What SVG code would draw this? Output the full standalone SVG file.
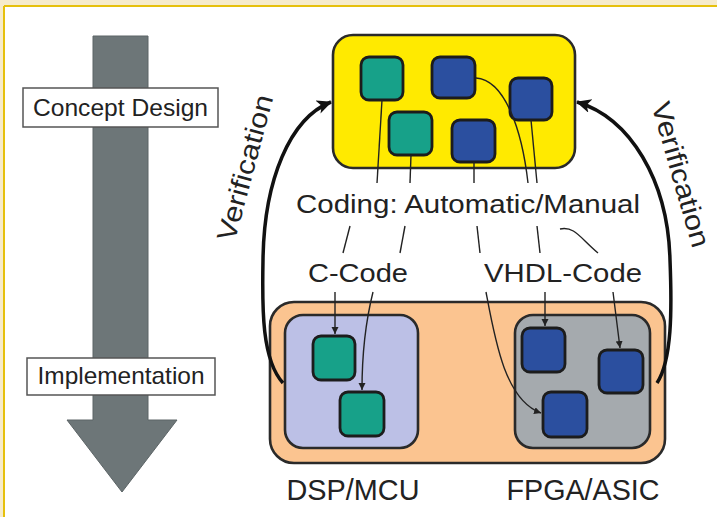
<svg xmlns="http://www.w3.org/2000/svg" width="717" height="517" viewBox="0 0 717 517">
  <defs>
    <style>
      .lbl { font-family: "Liberation Sans", Arial, sans-serif; fill: #222; }
      .frame { fill: #ffffff; stroke: #555; stroke-width: 1.5; }
      .box { stroke: #2a2a2a; stroke-width: 2.6; }
      .sq { stroke: #1c1c1c; stroke-width: 2.8; }
      .teal { fill: #17a189; }
      .blue { fill: #2b4f9f; }
      .thin { fill: none; stroke: #222; stroke-width: 1.4; }
      .big { fill: none; stroke: #111; stroke-width: 3.5; }
    </style>
    <marker id="bigHead" markerUnits="userSpaceOnUse" markerWidth="18" markerHeight="16" refX="14" refY="7" orient="auto">
      <path d="M0,0 L15,7 L0,14 L4,7 Z" fill="#111"/>
    </marker>
    <marker id="smallHead" markerUnits="userSpaceOnUse" markerWidth="9" markerHeight="8" refX="7" refY="3.5" orient="auto">
      <path d="M0,0 L7,3.5 L0,7 Z" fill="#222"/>
    </marker>
  </defs>

  <!-- page background and border -->
  <rect x="0" y="0" width="717" height="517" fill="#f6ebcb"/>
  <rect x="4" y="6" width="713" height="511" fill="#ffffff"/>
  <line x1="4" y1="6" x2="717" y2="6" stroke="#e6c00c" stroke-width="2"/>
  <line x1="4" y1="6" x2="4" y2="517" stroke="#e6c00c" stroke-width="2"/>

  <!-- design flow arrow -->
  <g id="flow">
    <path d="M93,36 L148,36 L148,420 L177,420 L122,492 L67,420 L93,420 Z" fill="#6d7678" stroke="#5c6466" stroke-width="1"/>
  </g>
  <g id="concept-design">
    <rect class="frame" x="23" y="88" width="195" height="39"/>
    <text class="lbl" x="120.5" y="116" font-size="24" text-anchor="middle" textLength="175" lengthAdjust="spacingAndGlyphs">Concept Design</text>
  </g>
  <g id="implementation">
    <rect class="frame" x="27" y="358" width="188" height="37"/>
    <text class="lbl" x="121" y="384" font-size="24" text-anchor="middle" textLength="167" lengthAdjust="spacingAndGlyphs">Implementation</text>
  </g>

  <!-- model (yellow) -->
  <g id="model">
    <rect class="box" x="333" y="35" width="242" height="133" rx="20" fill="#ffea00"/>
    <rect class="sq teal" x="361" y="57" width="42" height="43" rx="8"/>
    <rect class="sq blue" x="432" y="57" width="43" height="41" rx="8"/>
    <rect class="sq blue" x="510" y="78" width="42" height="42" rx="8"/>
    <rect class="sq teal" x="389" y="112" width="43" height="43" rx="8"/>
    <rect class="sq blue" x="452" y="120" width="43" height="42" rx="8"/>
  </g>

  <!-- implementation targets -->
  <g id="targets">
    <rect class="box" x="270" y="302" width="395" height="161" rx="24" fill="#fbc490"/>
  </g>
  <g id="dsp-mcu">
    <rect class="box" x="285" y="315" width="133" height="133" rx="18" fill="#bcc0e6"/>
    <rect class="sq teal" x="313" y="336" width="42" height="44" rx="8"/>
    <rect class="sq teal" x="340" y="392" width="44" height="44" rx="8"/>
    <text class="lbl" x="353" y="500" font-size="29" text-anchor="middle" textLength="133" lengthAdjust="spacingAndGlyphs">DSP/MCU</text>
  </g>
  <g id="fpga-asic">
    <rect class="box" x="515" y="315" width="135" height="133" rx="18" fill="#a5aaae"/>
    <rect class="sq blue" x="522" y="328" width="43" height="44" rx="8"/>
    <rect class="sq blue" x="599" y="350" width="44" height="43" rx="8"/>
    <rect class="sq blue" x="543" y="392" width="44" height="45" rx="8"/>
    <text class="lbl" x="583" y="500" font-size="29" text-anchor="middle" textLength="153" lengthAdjust="spacingAndGlyphs">FPGA/ASIC</text>
  </g>

  <!-- code generation labels -->
  <g id="coding">
    <text class="lbl" x="296" y="213" font-size="25" textLength="344" lengthAdjust="spacingAndGlyphs">Coding: Automatic/Manual</text>
  </g>
  <g id="c-code">
    <text class="lbl" x="308" y="282" font-size="25" textLength="100" lengthAdjust="spacingAndGlyphs">C-Code</text>
  </g>
  <g id="vhdl-code">
    <text class="lbl" x="484" y="282" font-size="25" textLength="158" lengthAdjust="spacingAndGlyphs">VHDL-Code</text>
  </g>

  <!-- verification labels -->
  <text class="lbl" font-size="27" text-anchor="middle" textLength="150" lengthAdjust="spacingAndGlyphs" transform="translate(254,170) rotate(-75)">Verification</text>
  <text class="lbl" font-size="27" text-anchor="middle" textLength="150" lengthAdjust="spacingAndGlyphs" transform="translate(672,177) rotate(74)">Verification</text>

  <!-- connectors -->
  <g id="connectors">
    <!-- verification loops -->
    <path class="big" d="M283,383 C262,360 262,310 263,260 C264,180 290,118 331,102" marker-end="url(#bigHead)"/>
    <path class="big" d="M657,383 C672,360 672,310 670,260 C668,180 630,118 577,102" marker-end="url(#bigHead)"/>

    <!-- model to coding -->
    <path class="thin" d="M382,100 L377,183"/>
    <path class="thin" d="M411,155 L410,183"/>
    <path class="thin" d="M474,162 L474,183"/>
    <path class="thin" d="M476,78 C505,80 522,130 528,183"/>
    <path class="thin" d="M531,120 L537,183"/>

    <!-- coding to code -->
    <path class="thin" d="M350,226 L343,253"/>
    <path class="thin" d="M405,226 L400,253"/>
    <path class="thin" d="M477,226 L480,253"/>
    <path class="thin" d="M537,226 L540,253"/>
    <path class="thin" d="M560,229 C575,226 580,238 598,253"/>

    <!-- code to targets -->
    <path class="thin" d="M335,292 L335,334" marker-end="url(#smallHead)"/>
    <path class="thin" d="M373,292 C366,320 362,350 362,390" marker-end="url(#smallHead)"/>
    <path class="thin" d="M486,292 C495,340 505,400 541,413" marker-end="url(#smallHead)"/>
    <path class="thin" d="M545,292 L545,326" marker-end="url(#smallHead)"/>
    <path class="thin" d="M613,292 L620,348" marker-end="url(#smallHead)"/>
  </g>
</svg>
